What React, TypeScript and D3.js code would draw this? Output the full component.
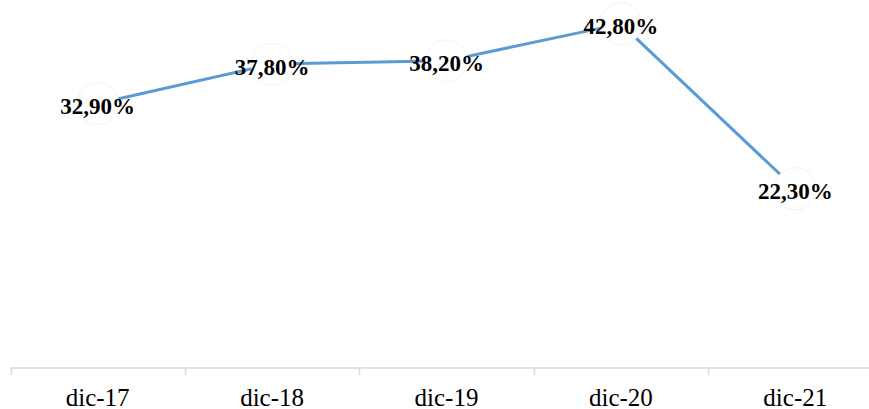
import React, { useEffect, useRef } from "react";
import * as d3 from "d3";

const categories = ["dic-17", "dic-18", "dic-19", "dic-20", "dic-21"];
const values = [32.9, 37.8, 38.2, 42.8, 22.3];
const valueLabels = ["32,90%", "37,80%", "38,20%", "42,80%", "22,30%"];

const W = 869;
const H = 409;

export default function App() {
  const ref = useRef<SVGSVGElement | null>(null);

  useEffect(() => {
    const svg = d3.select(ref.current);
    svg.selectAll("*").remove();

    const x = d3.scaleBand<string>().domain(categories).range([10.5, 10.5 + 5 * 174.4]);
    const y = d3.scaleLinear().domain([0, 45]).range([368, 368 - 45 * 8.04]);

    const cx = (c: string) => (x(c) as number) + x.bandwidth() / 2;

    // axis
    const g = svg.append("g");
    g.append("line")
      .attr("x1", 10.5)
      .attr("x2", W + 20)
      .attr("y1", 368)
      .attr("y2", 368)
      .attr("stroke", "#d9d9d9")
      .attr("stroke-width", 1.5);
    const bounds = categories.map((c) => x(c) as number);
    g.selectAll("line.tick")
      .data(bounds)
      .enter()
      .append("line")
      .attr("class", "tick")
      .attr("x1", (d) => Math.round(d) + 0.5)
      .attr("x2", (d) => Math.round(d) + 0.5)
      .attr("y1", 368)
      .attr("y2", 375)
      .attr("stroke", "#d9d9d9")
      .attr("stroke-width", 1.5);
    g.selectAll("text.cat")
      .data(categories)
      .enter()
      .append("text")
      .attr("class", "cat")
      .attr("x", (d) => cx(d))
      .attr("y", 406)
      .attr("text-anchor", "middle")
      .attr("font-family", "'Liberation Serif', 'Times New Roman', serif")
      .attr("font-size", 25)
      .attr("fill", "#000")
      .text((d) => d);

    const data = categories.map((c, i) => ({ c, v: values[i], l: valueLabels[i] }));

    const line = d3
      .line<{ c: string; v: number }>()
      .x((d) => cx(d.c))
      .y((d) => y(d.v));

    svg
      .append("path")
      .datum(data)
      .attr("d", line)
      .attr("fill", "none")
      .attr("stroke", "#5B9BD5")
      .attr("stroke-width", 3)
      .attr("stroke-linejoin", "round");

    svg
      .selectAll("circle.m")
      .data(data)
      .enter()
      .append("circle")
      .attr("class", "m")
      .attr("cx", (d) => cx(d.c))
      .attr("cy", (d) => y(d.v))
      .attr("r", 21)
      .attr("fill", "#fff")
      .attr("stroke", "#f3f3f3")
      .attr("stroke-width", 1);

    svg
      .selectAll("text.lbl")
      .data(data)
      .enter()
      .append("text")
      .attr("class", "lbl")
      .attr("x", (d) => cx(d.c))
      .attr("y", (d) => y(d.v) + 10.5)
      .attr("text-anchor", "middle")
      .attr("font-family", "'Liberation Serif', 'Times New Roman', serif")
      .attr("font-weight", "bold")
      .attr("font-size", 23)
      .attr("fill", "#000")
      .text((d) => d.l);
  }, []);

  return (
    <svg
      ref={ref}
      width={W}
      height={H}
      style={{ position: "absolute", left: 0, top: 0, display: "block", background: "#fff" }}
    />
  );
}
